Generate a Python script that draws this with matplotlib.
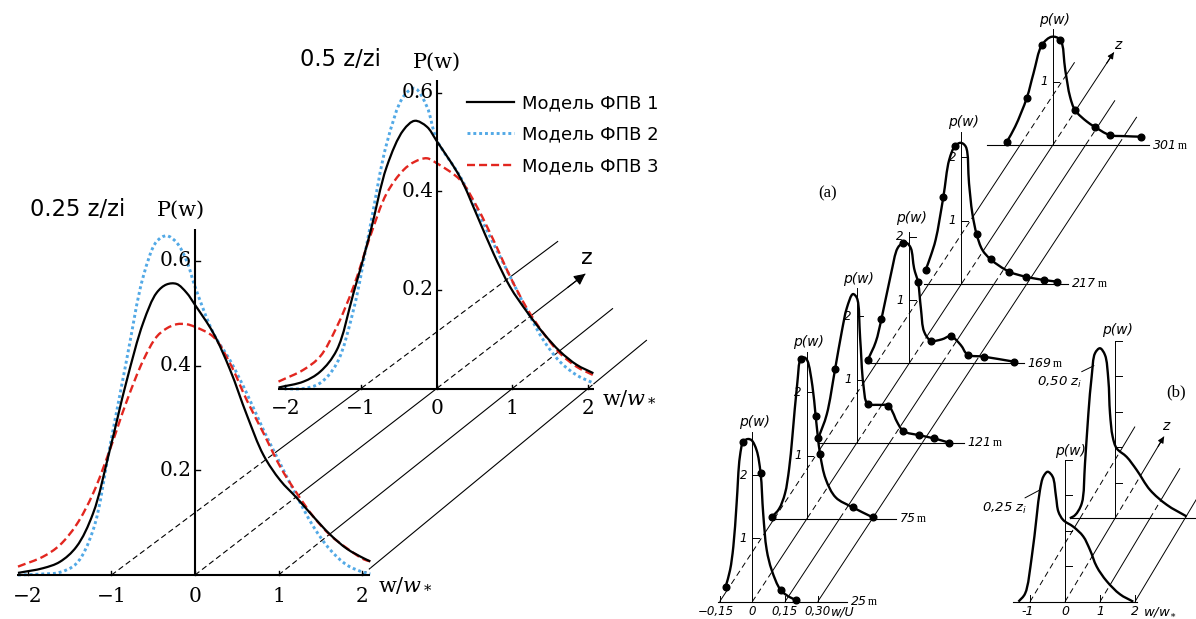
import numpy as np
import matplotlib
matplotlib.use('Agg')
import matplotlib.pyplot as plt
from matplotlib.lines import Line2D
from matplotlib.path import Path
from matplotlib.patches import PathPatch

plt.rcParams.update({
    'mathtext.fontset': 'custom',
    'mathtext.rm': 'DejaVu Serif',
    'mathtext.it': 'DejaVu Serif:italic',
    'mathtext.sf': 'DejaVu Sans:italic',
})

W, H = 1196, 619

# ---------------- left chart: P(w) of three models, two heights ----------------
model_names = ['Модель ФПВ 1', 'Модель ФПВ 2', 'Модель ФПВ 3']
left_titles = ['0.25 z/zi', '0.5 z/zi']
left_xticks = [-2, -1, 0, 1, 2]
left_xticklabels = ['\u22122', '\u22121', '0', '1', '2']
left_yticks = [0.2, 0.4, 0.6]

w_q25 = [-2.12, -1.82, -1.62, -1.42, -1.22, -1.02, -0.82, -0.62, -0.46, -0.34, -0.22, -0.10,
         0.0, 0.22, 0.42, 0.62, 0.82, 1.02, 1.22, 1.42, 1.62, 1.82, 2.02, 2.10]
p1_q25 = [0.004, 0.013, 0.025, 0.054, 0.118, 0.239, 0.37, 0.482, 0.539, 0.555, 0.556, 0.539,
          0.516, 0.462, 0.392, 0.306, 0.229, 0.181, 0.147, 0.111, 0.077, 0.050, 0.032, 0.026]
p2_q25 = [0.0, 0.002, 0.005, 0.022, 0.086, 0.245, 0.41, 0.57, 0.637, 0.648, 0.635, 0.60,
          0.551, 0.462, 0.41, 0.347, 0.277, 0.213, 0.15, 0.092, 0.048, 0.019, 0.005, 0.002]
p3_q25 = [0.016, 0.035, 0.057, 0.096, 0.156, 0.239, 0.331, 0.41, 0.455, 0.471, 0.479, 0.479,
          0.474, 0.455, 0.404, 0.334, 0.271, 0.207, 0.156, 0.111, 0.076, 0.051, 0.030, 0.026]

w_q50 = [-2.09, -1.76, -1.54, -1.32, -1.10, -0.88, -0.66, -0.44, -0.29, -0.13,
         0.0, 0.31, 0.53, 0.75, 0.97, 1.19, 1.41, 1.63, 1.85, 2.07]
p1_q50 = [0.002, 0.014, 0.034, 0.078, 0.193, 0.315, 0.45, 0.524, 0.543, 0.531,
          0.502, 0.428, 0.352, 0.274, 0.206, 0.156, 0.112, 0.075, 0.048, 0.031]
p2_q50 = [0.0, 0.0, 0.011, 0.051, 0.159, 0.328, 0.497, 0.592, 0.609, 0.572,
          0.505, 0.43, 0.362, 0.294, 0.227, 0.159, 0.098, 0.054, 0.027, 0.011]
p3_q50 = [0.014, 0.038, 0.065, 0.125, 0.206, 0.308, 0.396, 0.443, 0.46, 0.467,
          0.457, 0.423, 0.369, 0.301, 0.227, 0.163, 0.112, 0.071, 0.044, 0.027]

# ---------------- (a): measured p(w) at six heights ----------------
a_heights = [25, 75, 121, 169, 217, 301]
a_xticks = [-0.15, 0, 0.15, 0.30]
a_xticklabels = ['\u22120,15', '0', '0,15', '0,30']

w_25m = [-0.122, -0.102, -0.087, -0.072, -0.057, -0.041, -0.02, -0.003, 0.02, 0.038, 0.05, 0.066,
         0.089, 0.13, 0.173, 0.2]
p_25m = [0.24, 0.50, 0.87, 1.55, 2.29, 2.53, 2.57, 2.55, 2.39, 2.03, 1.39, 0.82, 0.50, 0.185, 0.07, 0.03]
dw_25m = [-0.122, -0.041, 0.038, 0.13, 0.2]
dp_25m = [0.24, 2.53, 2.03, 0.185, 0.03]

w_75m = [-0.16, -0.127, -0.1, -0.081, -0.066, -0.043, -0.028, -0.01, 0.003, 0.026, 0.041, 0.061,
         0.087, 0.133, 0.21, 0.302]
p_75m = [0.03, 0.16, 0.4, 0.79, 1.3, 2.16, 2.52, 2.55, 2.5, 2.1, 1.62, 1.03, 0.63, 0.34, 0.185, 0.027]
dw_75m = [-0.16, -0.028, 0.041, 0.061, 0.21, 0.302]
dp_75m = [0.03, 2.52, 1.62, 1.03, 0.185, 0.027]

w_121m = [-0.176, -0.138, -0.1, -0.069, -0.046, -0.018, 0.0, 0.015, 0.03, 0.049, 0.1, 0.145,
          0.165, 0.183, 0.214, 0.287, 0.355, 0.425]
p_121m = [0.08, 0.45, 1.16, 1.76, 2.13, 2.35, 2.29, 1.66, 0.92, 0.62, 0.6, 0.59,
          0.48, 0.34, 0.185, 0.12, 0.07, 0.0]
dw_121m = [-0.176, -0.1, 0.049, 0.145, 0.214, 0.287, 0.355, 0.425]
dp_121m = [0.08, 1.16, 0.62, 0.59, 0.185, 0.12, 0.07, 0.0]

w_169m = [-0.19, -0.153, -0.127, -0.084, -0.053, -0.03, -0.01, 0.008, 0.023, 0.041, 0.054, 0.069,
          0.1, 0.15, 0.191, 0.237, 0.268, 0.344, 0.482]
p_169m = [0.05, 0.34, 0.70, 1.40, 1.82, 1.9, 1.9, 1.82, 1.5, 1.28, 0.87, 0.5,
          0.36, 0.38, 0.43, 0.29, 0.14, 0.106, 0.027]
dw_169m = [-0.19, -0.127, -0.03, 0.041, 0.1, 0.191, 0.268, 0.344, 0.482]
dp_169m = [0.05, 0.70, 1.9, 1.28, 0.36, 0.43, 0.14, 0.106, 0.027]

w_217m = [-0.164, -0.14, -0.118, -0.083, -0.056, -0.029, -0.003, 0.02, 0.035, 0.05, 0.07, 0.096,
          0.134, 0.219, 0.295, 0.379, 0.44]
p_217m = [0.22, 0.45, 0.70, 1.37, 1.96, 2.18, 2.23, 2.17, 1.59, 1.12, 0.785, 0.54,
          0.39, 0.195, 0.115, 0.063, 0.037]
dw_217m = [-0.164, -0.083, -0.029, 0.07, 0.134, 0.219, 0.295, 0.379, 0.44]
dp_217m = [0.22, 1.37, 2.18, 0.785, 0.39, 0.195, 0.115, 0.063, 0.037]

w_301m = [-0.211, -0.173, -0.119, -0.089, -0.05, -0.005, 0.034, 0.057, 0.079, 0.102, 0.156, 0.191,
          0.26, 0.33, 0.404]
p_301m = [0.052, 0.29, 0.75, 1.13, 1.58, 1.71, 1.66, 1.18, 0.76, 0.55, 0.37, 0.29, 0.158, 0.14, 0.131]
dw_301m = [-0.211, -0.119, -0.05, 0.034, 0.102, 0.191, 0.26, 0.404]
dp_301m = [0.052, 0.75, 1.58, 1.66, 0.55, 0.29, 0.158, 0.131]

# ---------------- (b): p(w) at 0.25 zi and 0.50 zi ----------------
b_levels = ['0,25', '0,50']
b_xticks = [-1, 0, 1, 2]
b_xticklabels = ['-1', '0', '1', '2']

w_b25 = [-1.33, -1.14, -0.95, -0.81, -0.714, -0.62, -0.495, -0.352, -0.257, -0.19, -0.05,
         0.24, 0.52, 0.714, 0.905, 1.19, 1.57, 1.95]
p_b25 = [0.0, 0.023, 0.126, 0.24, 0.315, 0.352, 0.366, 0.352, 0.296, 0.254, 0.23,
         0.211, 0.184, 0.146, 0.099, 0.058, 0.021, 0.0]
w_b50 = [-1.29, -1.14, -0.95, -0.857, -0.76, -0.667, -0.571, -0.43, -0.286, -0.19, -0.143,
         -0.067, 0.048, 0.333, 0.62, 1.0, 1.48, 2.05]
p_b50 = [0.0, 0.009, 0.042, 0.155, 0.296, 0.399, 0.465, 0.479, 0.46, 0.39, 0.296,
         0.23, 0.197, 0.173, 0.136, 0.08, 0.038, 0.005]

# ------------------------------------------------------------------------------
fig = plt.figure(figsize=(W / 100, H / 100), dpi=100)
ov = fig.add_axes([0, 0, 1, 1], zorder=0)
ov.set_xlim(0, W)
ov.set_ylim(H, 0)
ov.axis('off')


def panel(ox, oy, sx, sy, xr, yr):
    """Axes whose data origin sits at pixel (ox, oy), sx / sy pixels per unit."""
    left, right = ox + xr[0] * sx, ox + xr[1] * sx
    top, bottom = oy - yr[1] * sy, oy - yr[0] * sy
    ax = fig.add_axes([left / W, 1 - bottom / H, (right - left) / W, (bottom - top) / H], zorder=2)
    ax.set_xlim(*xr)
    ax.set_ylim(*yr)
    ax.axis('off')
    return ax


def to_px(ax, x, y):
    d = ax.transData.transform(np.column_stack([np.atleast_1d(x), np.atleast_1d(y)]))
    return ov.transData.inverted().transform(d)


def smooth_line(ax, x, y, **kw):
    """Draw a smooth (centripetal Catmull-Rom) curve through the read points."""
    P = ax.transData.transform(np.column_stack([x, y]).astype(float))
    ext = np.vstack([2 * P[0] - P[1], P, 2 * P[-1] - P[-2]])
    verts, codes = [P[0]], [Path.MOVETO]
    for i in range(len(P) - 1):
        p0, p1, p2, p3 = ext[i], ext[i + 1], ext[i + 2], ext[i + 3]
        d1 = max(np.hypot(*(p1 - p0)), 1e-6) ** 0.5
        d2 = max(np.hypot(*(p2 - p1)), 1e-6) ** 0.5
        d3 = max(np.hypot(*(p3 - p2)), 1e-6) ** 0.5
        b1 = (d1 ** 2 * p2 - d2 ** 2 * p0 + (2 * d1 ** 2 + 3 * d1 * d2 + d2 ** 2) * p1) / (3 * d1 * (d1 + d2))
        b2 = (d3 ** 2 * p1 - d2 ** 2 * p3 + (2 * d3 ** 2 + 3 * d3 * d2 + d2 ** 2) * p2) / (3 * d3 * (d3 + d2))
        verts += [b1, b2, p2]
        codes += [Path.CURVE4] * 3
    verts = ax.transData.inverted().transform(np.array(verts))
    patch = PathPatch(Path(verts, codes), facecolor='none', clip_on=False, **kw)
    ax.add_patch(patch)
    return patch


def floor(p0, p1, walls, lw=0.8, dash=(5, 3)):
    """Line on the floor: dashed where a curve wall stands in front of it."""
    t = np.linspace(0, 1, 500)[:, None]
    pts = p0 + (p1 - p0) * t
    disp = ov.transData.transform(pts)
    hidden = np.zeros(len(pts), dtype=int)
    for ax, cx, cy in walls:
        xy = ax.transData.inverted().transform(disp)
        under = np.interp(xy[:, 0], cx, cy, left=-1, right=-1)
        hidden |= ((xy[:, 1] > 0) & (xy[:, 1] < under)).astype(int)
    cuts = np.flatnonzero(np.diff(hidden)) + 1
    for a, b in zip(np.r_[0, cuts], np.r_[cuts, len(pts)]):
        seg = pts[a:min(b + 1, len(pts))]
        ov.plot(seg[:, 0], seg[:, 1], color='k', lw=lw,
                ls=(0, dash) if hidden[a] else '-', solid_capstyle='butt')


def arrow_tip(p_from, p_to, scale=15):
    ov.annotate('', xy=p_to, xytext=p_to - 0.12 * (p_to - p_from),
                arrowprops=dict(arrowstyle='-|>', color='k', lw=0.8,
                                mutation_scale=scale, shrinkA=0, shrinkB=0))


# ---------------- left chart ----------------
colors = ['black', '#52a9e6', '#e2261f']
styles = ['-', (0, (1, 1.0)), (0, (3.4, 1.7))]
widths = [1.6, 2.1, 1.7]
serif = 'DejaVu Serif'

left_sets = [
    dict(w=w_q25, p=[p1_q25, p2_q25, p3_q25], org=(195, 575), sx=83.5, sy=523.5,
         base=(-2.13, 2.10), top=0.66, title_xy=(30, 209), plab_dx=-14, plab_dy=19.5, lab_dy=22),
    dict(w=w_q50, p=[p1_q50, p2_q50, p3_q50], org=(436.7, 388.5), sx=75.7, sy=493,
         base=(-2.09, 2.08), top=0.626, title_xy=(300, 59), plab_dx=0, plab_dy=18, lab_dy=20),
]
draw_order = [1, 2, 0]   # blue, red, then black on top
left_axes = []
for k, s in enumerate(left_sets):
    ax = panel(s['org'][0], s['org'][1], s['sx'], s['sy'], (-2.4, 2.4), (-0.1, 0.75))
    ax.plot(s['base'], [0, 0], color='k', lw=1.5, solid_capstyle='butt')
    ax.plot([0, 0], [0, s['top']], color='k', lw=1.5, solid_capstyle='butt')
    for t in left_xticks:
        ax.plot([t, t], [0, 0.008], color='k', lw=1.0)
    for t in left_yticks:
        ax.plot([0, 0.06], [t, t], color='k', lw=1.0)
        ax.annotate(f'{t:.1f}', xy=(0, t), xytext=(-3, 0), textcoords='offset pixels',
                    ha='right', va='center', fontsize=14.5, family=serif)
    for t, lab in zip(left_xticks, left_xticklabels):
        ax.annotate(lab, xy=(t, 0), xytext=(0, -s['lab_dy']), textcoords='offset pixels',
                    ha='center', va='center', fontsize=14.5, family=serif)
    ax.annotate('w/$w_*$', xy=(s['base'][1], 0), xytext=(8, -10), textcoords='offset pixels',
                ha='left', va='center', fontsize=15, family=serif)
    ax.annotate('P(w)', xy=(0, s['top']), xytext=(s['plab_dx'], s['plab_dy']),
                textcoords='offset pixels', ha='center', va='center', fontsize=15, family=serif)
    ov.text(s['title_xy'][0], s['title_xy'][1], left_titles[k], ha='left', va='center',
            fontsize=16.3, family='DejaVu Sans')
    for j in draw_order:
        smooth_line(ax, s['w'], s['p'][j], edgecolor=colors[j], linestyle=styles[j],
                    linewidth=widths[j])
    left_axes.append(ax)

front, back = left_axes
env_front = np.maximum.reduce([np.array(p) for p in left_sets[0]['p']])
env_back = np.maximum.reduce([np.array(p) for p in left_sets[1]['p']])
walls_left = [(front, w_q25, env_front), (back, w_q50, env_back)]
left_ext = [0.79, 0.615, 0.43, 0.26]
for t, ext in zip([-1, 0, 1, 2], left_ext):
    p0 = to_px(front, t, 0)[0]
    p1 = to_px(back, t, 0)[0]
    p2 = p1 + (p1 - p0) * ext
    floor(p0, p1, walls_left, lw=0.8, dash=(5, 3))
    floor(p1, p2, walls_left, lw=0.8, dash=(5, 3))
    if t == 0:
        arrow_tip(p1, p2, scale=17)
        ov.text(p2[0] + 2, p2[1] - 16, 'z', ha='center', va='center', fontsize=16,
                family='DejaVu Sans')

leg_h = [Line2D([], [], color=c, ls=ls, lw=lw) for c, ls, lw in zip(colors, styles, widths)]
fig.legend(leg_h, model_names, loc='upper left', bbox_to_anchor=(467 / W, 1 - 94 / H),
           frameon=False, fontsize=13, handlelength=2.6, handletextpad=0.45,
           labelspacing=0.76, borderpad=0, borderaxespad=0)

# ---------------- (a) ----------------
A_X0, A_Y0, A_DX, A_DY = 752.3, 601.7, 1.089, 1.6547
A_SX, A_SY = 218, 63.3
a_curves = [(w_25m, p_25m, dw_25m, dp_25m), (w_75m, p_75m, dw_75m, dp_75m),
            (w_121m, p_121m, dw_121m, dp_121m), (w_169m, p_169m, dw_169m, dp_169m),
            (w_217m, p_217m, dw_217m, dp_217m), (w_301m, p_301m, dw_301m, dp_301m)]
a_base_lo = [-0.159, -0.165, -0.176, -0.2, -0.17, -0.3]
a_base_hi = [0.433, 0.408, 0.49, 0.526, 0.49, 0.44]
a_axis_top = [2.68, 2.63, 2.45, 2.08, 2.4, 1.84]
a_ytick_sets = [[1, 2], [1, 2], [1, 2], [1, 2], [1, 2], [1]]
a_pw_dy = [10, 10, 9, 14, 10, 9]
sans_it = dict(family='DejaVu Sans', style='italic')

a_axes = []
for i, z in enumerate(a_heights):
    ox = A_X0 + (z - 25) * A_DX
    oy = A_Y0 - (z - 25) * A_DY
    ax = panel(ox, oy, A_SX, A_SY, (-0.4, 0.7), (-0.3, 3.0))
    cw, cp, dw, dp = a_curves[i]
    ax.plot([a_base_lo[i], a_base_hi[i]], [0, 0], color='k', lw=0.8)
    ax.plot([0, 0], [0, a_axis_top[i]], color='k', lw=0.7)
    for t in a_ytick_sets[i]:
        ax.plot([0, 0.03], [t, t], color='k', lw=0.7)
        ax.annotate(str(t), xy=(0, t), xytext=(-9, 0), textcoords='offset pixels',
                    ha='center', va='center', fontsize=8.5, **sans_it)
    ax.annotate('p(w)', xy=(0, a_axis_top[i]), xytext=(2, a_pw_dy[i]), textcoords='offset pixels',
                ha='center', va='center', fontsize=10, **sans_it)
    num = ax.annotate(str(z), xy=(a_base_hi[i], 0), xytext=(4, 0), textcoords='offset pixels',
                      ha='left', va='center', fontsize=9, **sans_it)
    ax.annotate('m', xy=(1, 0), xycoords=num, xytext=(1.5, 0), textcoords='offset pixels',
                ha='left', va='bottom', fontsize=8.5, family='Liberation Serif')
    smooth_line(ax, cw, cp, edgecolor='k', linewidth=1.7)
    ax.plot(dw, dp, 'o', color='k', ms=4.8, clip_on=False)
    a_axes.append(ax)

ax25 = a_axes[0]
for t, lab in zip(a_xticks, a_xticklabels):
    ax25.plot([t, t], [0, 0.09], color='k', lw=0.7)
    ax25.annotate(lab, xy=(t, 0), xytext=(-4 if t < 0 else 0, -10), textcoords='offset pixels',
                  ha='center', va='center', fontsize=8.5, **sans_it)
ax25.annotate('w/U', xy=(0.416, 0), xytext=(0, -10), textcoords='offset pixels',
              ha='center', va='center', fontsize=9, **sans_it)

walls_a = [(ax, c[0], c[1]) for ax, c in zip(a_axes, a_curves)]
a_line_end = [351, 357, 328, 318]
for t, zend in zip(a_xticks, a_line_end):
    p0 = to_px(a_axes[0], t, 0)[0]
    p1 = to_px(a_axes[-1], t, 0)[0]
    p2 = p0 + (p1 - p0) * (zend - a_heights[0]) / (a_heights[-1] - a_heights[0])
    floor(p0, p2, walls_a, lw=0.7, dash=(6, 4))
    if t == 0:
        arrow_tip(p1, p2, scale=9)
        ov.text(p2[0] + 4, p2[1] - 7, 'z', ha='center', va='center', fontsize=10, **sans_it)

ov.text(828, 193, '(a)', ha='center', va='center', fontsize=12, family='Liberation Serif')

# ---------------- (b) ----------------
B_SX, B_SY = 35, 355
b_orgs = [(1065, 601.7), (1115, 518.3)]
b_curves = [(w_b25, p_b25), (w_b50, p_b50)]
b_base = [(-1.48, 2.05), (-1.29, 2.4)]
b_top = [0.4, 0.5]
b_pw_off = [(5, 9), (2, 11)]
b_lead_xy = [(-0.714, 0.315), (-0.6, 0.43)]
b_lead_off = [(-13, -19), (-12, -17)]

b_axes = []
for i, lvl in enumerate(b_levels):
    ax = panel(b_orgs[i][0], b_orgs[i][1], B_SX, B_SY, (-1.8, 2.6), (-0.05, 0.6))
    cw, cp = b_curves[i]
    ax.plot(b_base[i], [0, 0], color='k', lw=0.8, clip_on=False)
    ax.plot([0, 0], [0, b_top[i]], color='k', lw=0.7)
    ticks = np.arange(1, int(round(b_top[i] * 10)) + 1) / 10
    for t in ticks:
        ax.plot([0, 0.2], [t, t], color='k', lw=0.7)
    ax.annotate('p(w)', xy=(0, b_top[i]), xytext=b_pw_off[i], textcoords='offset pixels',
                ha='center', va='center', fontsize=10, **sans_it)
    ax.annotate(lvl + r' $\mathsf{z_i}$', xy=b_lead_xy[i], xytext=b_lead_off[i],
                textcoords='offset pixels', ha='right', va='center', fontsize=9.5, **sans_it,
                arrowprops=dict(arrowstyle='-', color='k', lw=0.7, shrinkA=1, shrinkB=0))
    smooth_line(ax, cw, cp, edgecolor='k', linewidth=1.7)
    b_axes.append(ax)

b25, b50 = b_axes
for t, lab in zip(b_xticks, b_xticklabels):
    b25.plot([t, t], [0, 0.02], color='k', lw=0.7)
    b25.annotate(lab, xy=(t, 0), xytext=(-2 if t < 0 else 0, -10), textcoords='offset pixels',
                 ha='center', va='center', fontsize=9, **sans_it)
b25.annotate(r'w/w$_{\ast}$', xy=(2, 0), xytext=(8, -10), textcoords='offset pixels',
             ha='left', va='center', fontsize=9.5, **sans_it)

walls_b = [(ax, c[0], c[1]) for ax, c in zip(b_axes, b_curves)]
b_line_ext = [2.1, 1.98, 1.6, 1.4]
for t, f in zip(b_xticks, b_line_ext):
    p0 = to_px(b25, t, 0)[0]
    p1 = to_px(b50, t, 0)[0]
    p2 = p0 + (p1 - p0) * f
    floor(p0, p2, walls_b, lw=0.7, dash=(6, 4))
    if t == 0:
        arrow_tip(p1, p2, scale=9)
        ov.text(p2[0] + 2, p2[1] - 11, 'z', ha='center', va='center', fontsize=10, **sans_it)

ov.text(1176, 392, '(b)', ha='center', va='center', fontsize=12, family='Liberation Serif')

fig.savefig('out.png', dpi=100, facecolor='white')
